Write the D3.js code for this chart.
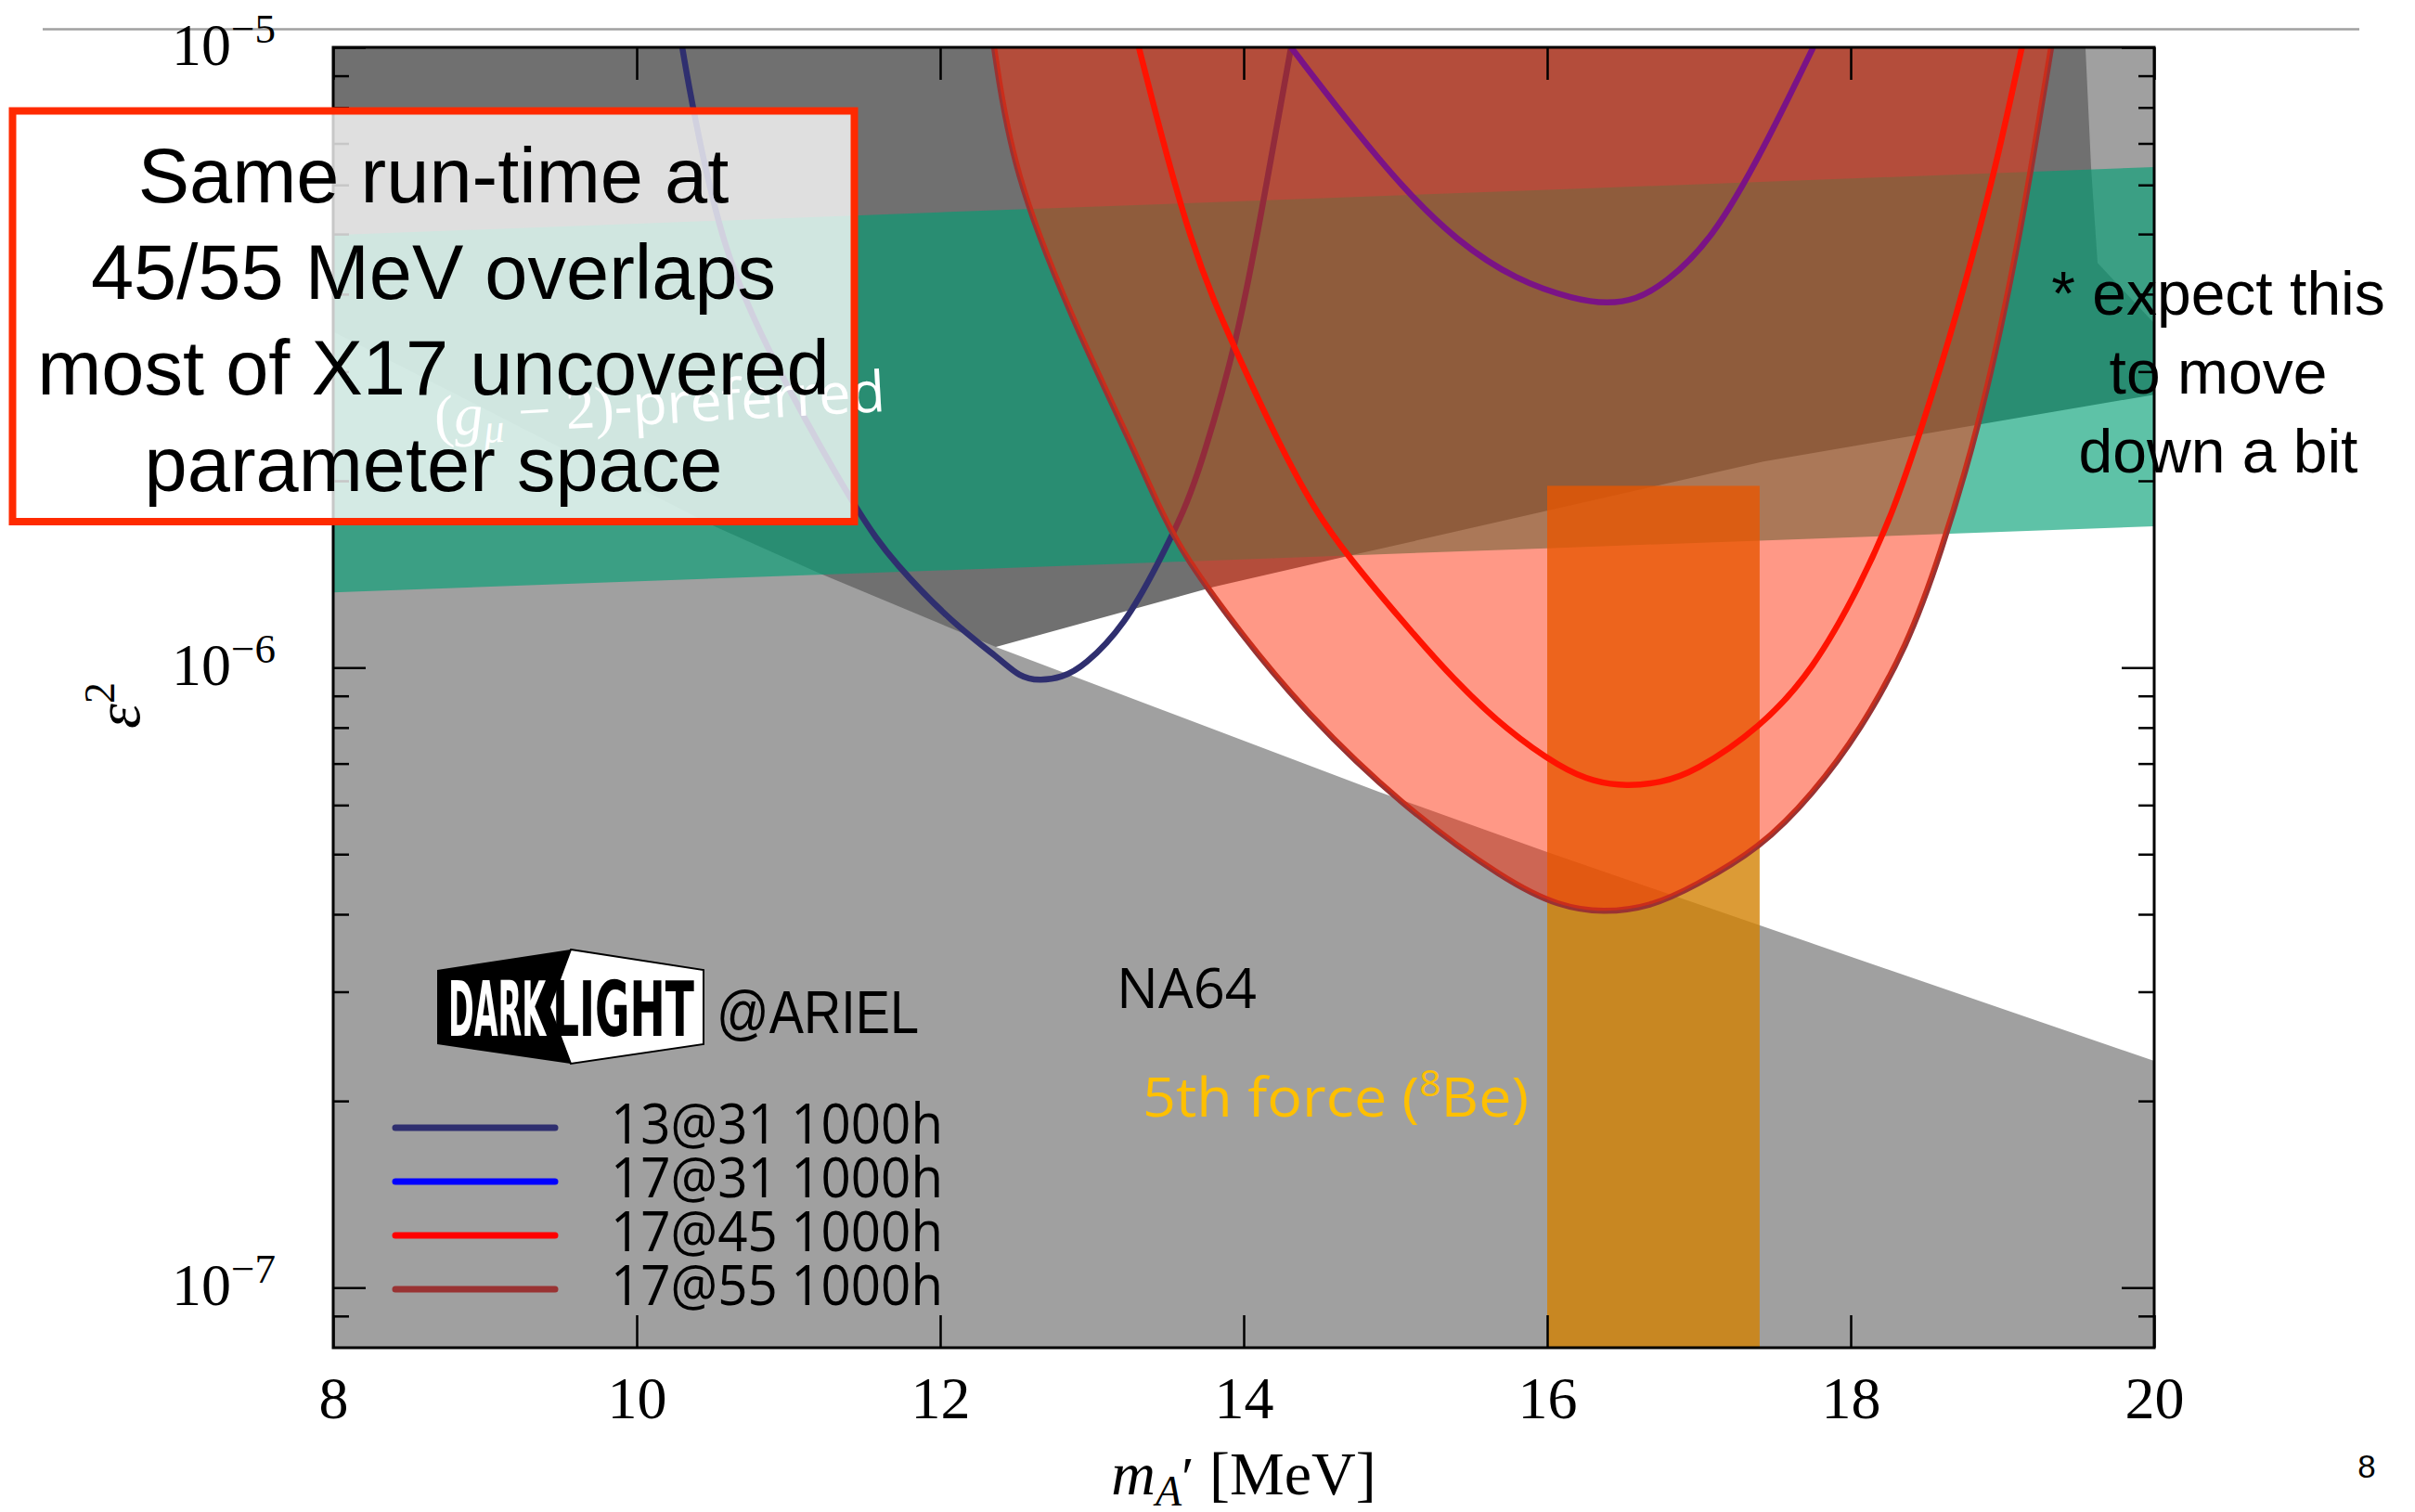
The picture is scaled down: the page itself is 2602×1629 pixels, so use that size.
<!DOCTYPE html>
<html>
<head>
<meta charset="utf-8">
<script src="https://cdn.jsdelivr.net/npm/d3@7"></script>
<style>
  html, body { margin: 0; padding: 0; background: #ffffff; }
  svg { display: block; }
</style>
</head>
<body>
<svg id="chart" width="2602" height="1629"></svg>
<script>
// ---------------------------------------------------------------------------
// Axis ticks
const massTicks = [8, 10, 12, 14, 16, 18, 20];
const epsDecades = [1e-7, 1e-6, 1e-5];
const epsDecadeLabels = ["−7", "−6", "−5"];
const epsMinor = [9e-8, 2e-7, 3e-7, 4e-7, 5e-7, 6e-7, 7e-7, 8e-7, 9e-7,
                  2e-6, 3e-6, 4e-6, 5e-6, 6e-6, 7e-6, 8e-6, 9e-6];

// Existing exclusions, [mass (MeV), eps^2]
const upperExclusion = [[8, 1e-5], [19.547, 1e-5], [19.584, 6.41e-6], [19.627, 4.49e-6],
                        [20, 3.59e-6], [20, 2.754e-6], [17.425, 2.149e-6], [16.813, 1.986e-6],
                        [14.661, 1.507e-6], [13.804, 1.349e-6], [12.367, 1.079e-6], [8, 5e-7]];
const cornerExclusion = [[19.5, 1e-5], [20, 1e-5], [20, 3.59e-6], [19.5, 3.59e-6]];
const na64Boundary = [[8, 3.48e-6], [10.526, 1.683e-6], [11.199, 1.421e-6], [12.367, 1.079e-6],
                      [14.893, 6.30e-7], [16.0, 5.04e-7], [17.731, 3.60e-7], [20, 2.32e-7]];

// (g_mu - 2) preferred band
const gm2Mass  = [8, 12, 16, 20];
const gm2Lower = [1.322e-6, 1.434e-6, 1.557e-6, 1.689e-6];
const gm2Upper = [4.98e-6, 5.42e-6, 5.89e-6, 6.41e-6];

// 8Be anomaly (X17) band
const beMass = [16.0, 17.4];
const beEpsTop = 1.963e-6;

// Projected DarkLight@ARIEL reach, 1000 h each: [mass (MeV), eps^2]
const reach13at31 = [[10.300, 1.0e-5], [10.367, 8.02e-6], [10.563, 4.73e-6], [10.875, 3.18e-6],
                     [11.462, 1.76e-6], [11.700, 1.47e-6], [12.089, 1.174e-6], [12.401, 1.029e-6],
                     [12.520, 9.66e-7], [12.654, 9.51e-7], [12.801, 9.63e-7], [12.948, 1.0035e-6],
                     [13.220, 1.174e-6], [13.435, 1.47e-6], [13.609, 1.79e-6], [13.727, 2.146e-6],
                     [13.962, 3.40e-6], [14.116, 5.40e-6], [14.312, 1.0e-5]];
const reach17at31 = [[14.312, 1.0e-5], [14.702, 7.51e-6], [15.052, 5.92e-6], [15.404, 4.87e-6],
                     [15.795, 4.21e-6], [16.183, 3.92e-6], [16.398, 3.86e-6], [16.581, 3.915e-6],
                     [16.771, 4.15e-6], [17.083, 4.87e-6], [17.425, 6.84e-6], [17.753, 1.0e-5]];
const reach17at45 = [[13.309, 1.0e-5], [13.649, 4.73e-6], [13.961, 3.19e-6], [14.232, 2.296e-6],
                     [14.469, 1.79e-6], [14.697, 1.50e-6], [15.034, 1.196e-6], [15.386, 9.53e-7],
                     [15.737, 7.91e-7], [16.088, 6.89e-7], [16.306, 6.54e-7], [16.526, 6.43e-7],
                     [16.746, 6.52e-7], [16.966, 6.77e-7], [17.407, 8.0e-7], [17.752, 9.9e-7],
                     [18.065, 1.359e-6], [18.284, 1.79e-6], [18.471, 2.449e-6], [18.691, 3.64e-6],
                     [18.942, 6.17e-6], [19.128, 1.0e-5]];
const reach17at55 = [[12.355, 1.0e-5], [12.477, 6.32e-6], [12.869, 3.64e-6], [13.260, 2.296e-6],
                     [13.450, 1.79e-6], [13.613, 1.507e-6], [13.982, 1.132e-6], [14.404, 8.48e-7],
                     [15.034, 6.00e-7], [15.737, 4.51e-7], [16.080, 4.12e-7], [16.367, 4.02e-7],
                     [16.679, 4.11e-7], [16.966, 4.43e-7], [17.407, 5.12e-7], [17.746, 6.23e-7],
                     [18.064, 7.91e-7], [18.373, 1.084e-6], [18.587, 1.507e-6], [18.847, 2.449e-6],
                     [19.052, 4.15e-6], [19.180, 6.17e-6], [19.321, 1.0e-5]];

const reachLabels = ["13@31 1000h", "17@31 1000h", "17@45 1000h", "17@55 1000h"];
const reachColors = ["#2f2f6f", "#0000ff", "#ff0000", "#993333"];
const reachSeries = [reach13at31, reach17at31, reach17at45, reach17at55];

const boxLines = ["Same run-time at", "45/55 MeV overlaps", "most of X17 uncovered", "parameter space"];
const noteLines = ["* expect this", "to move", "down a bit"];

// ---------------------------------------------------------------------------
const svg = d3.select("#chart");
const plot = { left: 359, right: 2321, top: 51, bottom: 1452 };

const x = d3.scaleLinear().domain([8, 20]).range([plot.left, plot.right]);
const y = d3.scaleLog().domain([8e-8, 1e-5]).range([plot.bottom, plot.top]);

const serif = "'Liberation Serif', 'DejaVu Serif', serif";
const sans = "'Liberation Sans', Arial, sans-serif";
const cond = "'Open Sans', 'DejaVu Sans', sans-serif";

svg.append("defs").append("clipPath").attr("id", "plotClip")
  .append("rect").attr("x", plot.left).attr("y", plot.top)
  .attr("width", plot.right - plot.left).attr("height", plot.bottom - plot.top);

// slide separator line
svg.append("line").attr("x1", 46).attr("x2", 2542).attr("y1", 31.5).attr("y2", 31.5)
  .attr("stroke", "#a0a0a0").attr("stroke-width", 2.5);

const g = svg.append("g").attr("clip-path", "url(#plotClip)");
g.append("rect").attr("x", plot.left).attr("y", plot.top)
  .attr("width", plot.right - plot.left).attr("height", plot.bottom - plot.top).attr("fill", "#ffffff");

const poly = d3.line().x(d => x(d[0])).y(d => y(d[1]));

// exclusion regions
g.append("path").attr("d", poly(cornerExclusion) + "Z").attr("fill", "#a0a0a0");
g.append("path").attr("d", poly(upperExclusion) + "Z").attr("fill", "#707070");
const na64Poly = na64Boundary.concat([[20, 8e-8], [8, 8e-8]]);
g.append("path").attr("d", poly(na64Poly) + "Z").attr("fill", "#a0a0a0");

// (g-2) band
const gm2 = gm2Mass.map((m, i) => ({ m, lo: gm2Lower[i], hi: gm2Upper[i] }));
g.append("path")
  .attr("d", d3.area().x(d => x(d.m)).y0(d => y(d.lo)).y1(d => y(d.hi))(gm2))
  .attr("fill", "rgb(0,158,115)").attr("fill-opacity", 0.63);

// 8Be band
g.append("rect")
  .attr("x", x(beMass[0])).attr("width", x(beMass[1]) - x(beMass[0]))
  .attr("y", y(beEpsTop)).attr("height", y(8e-8) - y(beEpsTop))
  .attr("fill", "rgb(210,128,0)").attr("fill-opacity", 0.79);

// reach curves
const curve = d3.line().x(d => x(d[0])).y(d => y(d[1])).curve(d3.curveBasis);
reachSeries.forEach((s, i) => {
  g.append("path").attr("d", curve(s)).attr("fill", "none")
    .attr("stroke", reachColors[i]).attr("stroke-width", 6.5);
});
// shaded reach of the 17@55 configuration
g.append("path").attr("d", curve(reach17at55) + "Z")
  .attr("fill", "rgb(255,40,2)").attr("fill-opacity", 0.48);

// ---------------------------------------------------------------------------
// frame and ticks
function styleAxis(sel) {
  sel.select(".domain").remove();
  sel.selectAll(".tick line").attr("stroke", "#000").attr("stroke-width", 2.5);
}
svg.append("g").attr("transform", `translate(${plot.left},0)`)
  .call(d3.axisLeft(y).tickValues(epsDecades).tickSize(-35).tickFormat("")).call(styleAxis);
svg.append("g").attr("transform", `translate(${plot.left},0)`)
  .call(d3.axisLeft(y).tickValues(epsMinor).tickSize(-17).tickFormat("")).call(styleAxis);
svg.append("g").attr("transform", `translate(${plot.right},0)`)
  .call(d3.axisRight(y).tickValues(epsDecades).tickSize(-35).tickFormat("")).call(styleAxis);
svg.append("g").attr("transform", `translate(${plot.right},0)`)
  .call(d3.axisRight(y).tickValues(epsMinor).tickSize(-17).tickFormat("")).call(styleAxis);
svg.append("g").attr("transform", `translate(0,${plot.top})`)
  .call(d3.axisTop(x).tickValues(massTicks).tickSize(-35).tickFormat("")).call(styleAxis);
const xb = svg.append("g").attr("transform", `translate(0,${plot.bottom})`)
  .call(d3.axisBottom(x).tickValues(massTicks).tickSize(-35).tickPadding(31).tickFormat(d3.format("d")))
  .call(styleAxis);
xb.attr("font-family", serif).attr("font-size", 64);
xb.selectAll(".tick text").attr("fill", "#000");

svg.append("rect").attr("x", plot.left).attr("y", plot.top)
  .attr("width", plot.right - plot.left).attr("height", plot.bottom - plot.top)
  .attr("fill", "none").attr("stroke", "#000").attr("stroke-width", 3);

// y tick labels 10^n
epsDecades.forEach((v, i) => {
  const t = svg.append("text").attr("x", 297).attr("y", y(v) + 19)
    .attr("text-anchor", "end").attr("font-family", serif).attr("font-size", 64).attr("fill", "#000");
  t.append("tspan").text("10");
  t.append("tspan").attr("dy", -24).attr("font-size", 45).text(epsDecadeLabels[i]);
});

// axis titles
const yt = svg.append("text").attr("transform", "translate(150,760) rotate(-90)")
  .attr("text-anchor", "middle").attr("font-family", serif).attr("font-size", 68).attr("fill", "#000");
yt.append("tspan").attr("font-style", "italic").text("ε");
yt.append("tspan").attr("dy", -27).attr("font-size", 46).text("2");

const xt = svg.append("text").attr("x", (plot.left + plot.right) / 2).attr("y", 1610)
  .attr("text-anchor", "middle").attr("font-family", serif).attr("font-size", 66).attr("fill", "#000");
xt.append("tspan").attr("font-style", "italic").text("m");
xt.append("tspan").attr("dy", 12).attr("font-size", 46).attr("font-style", "italic").text("A");
xt.append("tspan").attr("dy", -10).attr("font-size", 62).text("′");
xt.append("tspan").attr("dy", -2).text(" [MeV]");

// ---------------------------------------------------------------------------
// in-plot annotations
svg.append("text").attr("x", 1203).attr("y", 1086).attr("font-family", cond).attr("font-size", 60)
  .attr("textLength", 151).attr("lengthAdjust", "spacingAndGlyphs").attr("fill", "#000").text("NA64");

const be = svg.append("text").attr("x", 1231).attr("y", 1203).attr("font-family", cond)
  .attr("font-size", 58).attr("fill", "#ffc000")
  .attr("textLength", 416).attr("lengthAdjust", "spacingAndGlyphs");
be.append("tspan").text("5th force (");
be.append("tspan").attr("dy", -22).attr("font-size", 38).text("8");
be.append("tspan").attr("dy", 22).text("Be)");

const gl = svg.append("text").attr("transform", "translate(469,470) rotate(-3.2)")
  .attr("font-family", serif).attr("font-size", 63).attr("fill", "#ffffff");
gl.append("tspan").text("(");
gl.append("tspan").attr("font-style", "italic").text("g");
gl.append("tspan").attr("dy", 10).attr("font-size", 44).attr("font-style", "italic").text("μ");
gl.append("tspan").attr("dy", -10).text(" − 2)");
gl.append("tspan").attr("font-family", cond).attr("font-size", 61).text("-preferred");

// experiment badge
const logo = svg.append("g").attr("transform", "translate(471,1023)");
logo.append("polygon").attr("points", "144,0 287,22 287,102 144,123 121,62")
  .attr("fill", "#fff").attr("stroke", "#000").attr("stroke-width", 2);
logo.append("polygon").attr("points", "0,22 144,0 121,62 144,123 0,102").attr("fill", "#000");
logo.append("text").attr("x", 12).attr("y", 93).attr("font-family", "'Liberation Sans Narrow', 'DejaVu Sans Condensed', sans-serif")
  .attr("font-weight", "bold").attr("font-size", 82).attr("fill", "#fff")
  .attr("textLength", 105).attr("lengthAdjust", "spacingAndGlyphs").text("DARK");
logo.append("text").attr("x", 124).attr("y", 93).attr("font-family", "'Liberation Sans Narrow', 'DejaVu Sans Condensed', sans-serif")
  .attr("font-weight", "bold").attr("font-size", 82).attr("fill", "#000")
  .attr("textLength", 153).attr("lengthAdjust", "spacingAndGlyphs").text("LIGHT");
svg.append("text").attr("x", 772).attr("y", 1113).attr("font-family", sans).attr("font-size", 64)
  .attr("textLength", 218).attr("lengthAdjust", "spacingAndGlyphs").attr("fill", "#000").text("@ARIEL");

// legend
const legendY = [1215, 1273, 1331, 1389];
reachLabels.forEach((lab, i) => {
  svg.append("line").attr("x1", 426).attr("x2", 598).attr("y1", legendY[i]).attr("y2", legendY[i])
    .attr("stroke", reachColors[i]).attr("stroke-width", 7).attr("stroke-linecap", "round");
  svg.append("text").attr("x", 658).attr("y", legendY[i] + 17).attr("font-family", cond)
    .attr("font-size", 60).attr("textLength", 358).attr("lengthAdjust", "spacingAndGlyphs")
    .attr("fill", "#000").text(lab);
});

// ---------------------------------------------------------------------------
// call-out box
svg.append("rect").attr("x", 13.5).attr("y", 119.5).attr("width", 907).attr("height", 442.5)
  .attr("fill", "#ffffff").attr("fill-opacity", 0.78)
  .attr("stroke", "#ff2a00").attr("stroke-width", 8);
boxLines.forEach((s, i) => {
  svg.append("text").attr("x", 467).attr("y", 218 + i * 103.5).attr("text-anchor", "middle")
    .attr("font-family", sans).attr("font-size", 83).attr("fill", "#000").text(s);
});

// side note
noteLines.forEach((s, i) => {
  svg.append("text").attr("x", 2390).attr("y", 339 + i * 85).attr("text-anchor", "middle")
    .attr("font-family", sans).attr("font-size", 66).attr("fill", "#000").text(s);
});

// page number
svg.append("text").attr("x", 2550).attr("y", 1592).attr("text-anchor", "middle")
  .attr("font-family", sans).attr("font-size", 35).attr("fill", "#000").text("8");
</script>
</body>
</html>
